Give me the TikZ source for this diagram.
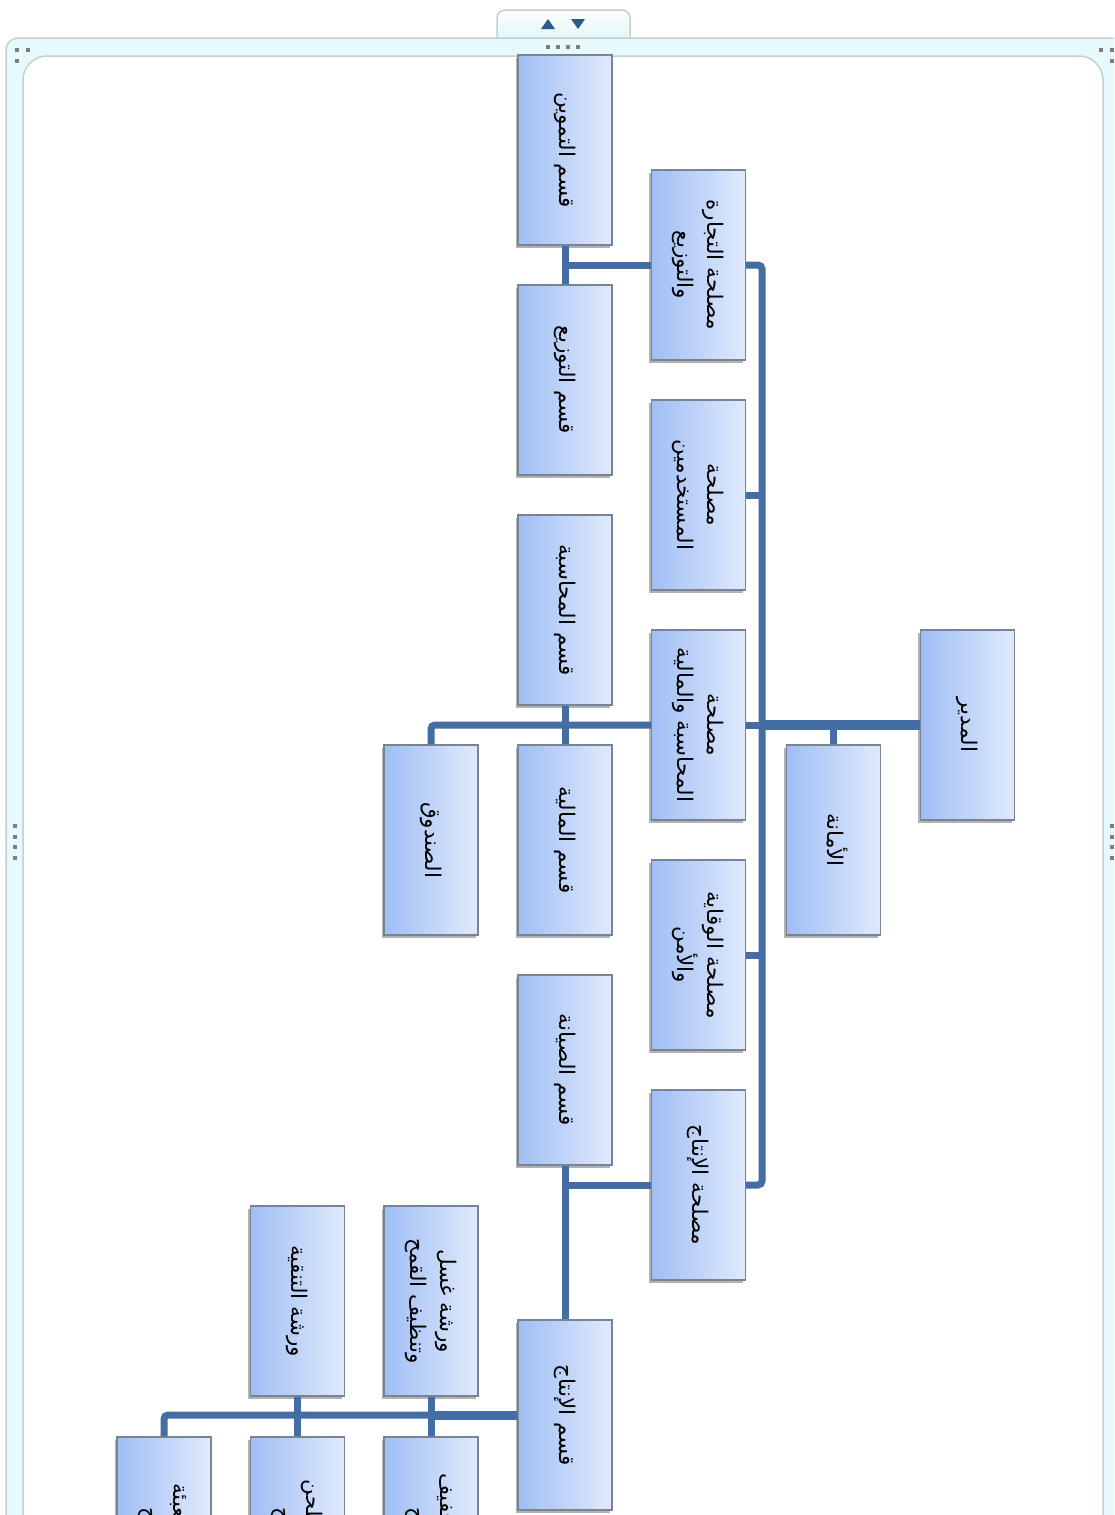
\documentclass[tikz,border=0pt]{standalone}
\usepackage{fontspec}
\usepackage{graphicx}
\usetikzlibrary{shadows,calc}
\newfontfamily\arabicfont[Script=Arabic]{DejaVu Sans}
\TeXXeTstate=1
\definecolor{boxdark}{RGB}{160,190,245}
\definecolor{boxlight}{RGB}{224,234,252}
\definecolor{boxborder}{RGB}{120,132,148}
\definecolor{conn}{RGB}{68,109,163}
\definecolor{bandfill}{RGB}{230,249,251}
\definecolor{bandline}{RGB}{196,207,210}
\definecolor{tabfill}{RGB}{224,244,247}
\definecolor{arrowblue}{RGB}{44,90,138}
\definecolor{dotgray}{RGB}{125,125,125}
\newcommand\artxt[1]{{\arabicfont\beginR #1\endR}}
\newcommand\rtext[1]{\rotatebox{-90}{\fontsize{21.5}{30}\selectfont\begin{tabular}{@{}c@{}}#1\end{tabular}}}
\tikzset{
  orgbox/.style={draw=boxborder, line width=1.3pt, left color=boxdark, right color=boxlight,
    minimum width=94pt, minimum height=190pt, inner sep=0pt,
    drop shadow={shadow xshift=-2.5pt, shadow yshift=-2.5pt, opacity=0.3, fill=black}},
  conn/.style={draw=conn, line width=7pt, rounded corners=4pt},
  connthick/.style={draw=conn, line width=10pt},
}
\begin{document}
\begin{tikzpicture}[x=1pt,y=-1pt]
\useasboundingbox (0,0) rectangle (1114,1515);
\clip (0,0) rectangle (1114,1515);
% frame
\fill[white] (0,0) rectangle (1114,1515);
\draw[bandline, line width=1.5pt, top color=white, bottom color=tabfill, rounded corners=8pt]
  (497,42) -- (497,10) -- (630,10) -- (630,42);
\draw[bandline, line width=1.5pt, fill=bandfill, rounded corners=12pt] (6,38) rectangle (1124,1540);
\draw[bandline, line width=1.5pt, fill=white, rounded corners=24pt] (23,56) rectangle (1103,1540);
\fill[arrowblue] (541,29) -- (555,29) -- (548,19) -- cycle;
\fill[arrowblue] (571,19) -- (585,19) -- (578,29) -- cycle;
\foreach \x in {546,556,566,576} \fill[dotgray] (\x,45) rectangle ++(4,4);
\foreach \p in {(15,48),(26,48),(15,59),(1099,48),(1110,48),(1110,59)} \fill[dotgray] \p rectangle ++(4,4);
\foreach \y in {824,835,845,856} {\fill[dotgray] (13,\y) rectangle ++(4,4); \fill[dotgray] (1110,\y) rectangle ++(4,4);}
% connectors (drawn first, boxes on top)
\coordinate (trunk) at (762,0);
\path (967.5,725) coordinate (rootc) (833.5,840) coordinate (asstc);
% nodes
\node[orgbox] (root) at (967.5,725) {\rtext{\artxt{المدير}}};
\node[orgbox] (asst) at (833.5,840) {\rtext{\artxt{الأمانة}}};
\node[orgbox] (sa) at (698.5,265) {\rtext{\artxt{مصلحة التجارة}\\\artxt{والتوزيع}}};
\node[orgbox] (sb) at (698.5,495) {\rtext{\artxt{مصلحة}\\\artxt{المستخدمين}}};
\node[orgbox] (sc) at (698.5,725) {\rtext{\artxt{مصلحة}\\\artxt{المحاسبة والمالية}}};
\node[orgbox] (sd) at (698.5,955) {\rtext{\artxt{مصلحة الوقاية}\\\artxt{والأمن}}};
\node[orgbox] (se) at (698.5,1185) {\rtext{\artxt{مصلحة الإنتاج}}};
\node[orgbox] (qa) at (565,150) {\rtext{\artxt{قسم التموين}}};
\node[orgbox] (qb) at (565,380) {\rtext{\artxt{قسم التوزيع}}};
\node[orgbox] (qc) at (565,610) {\rtext{\artxt{قسم المحاسبة}}};
\node[orgbox] (qd) at (565,840) {\rtext{\artxt{قسم المالية}}};
\node[orgbox] (qs) at (431,840) {\rtext{\artxt{الصندوق}}};
\node[orgbox] (qe) at (565,1070) {\rtext{\artxt{قسم الصيانة}}};
\node[orgbox] (qf) at (565,1415) {\rtext{\artxt{قسم الإنتاج}}};
\node[orgbox] (wa) at (431,1301) {\rtext{\artxt{ورشة غسل}\\\artxt{وتنظيف القمح}}};
\node[orgbox] (wb) at (297.5,1301) {\rtext{\artxt{ورشة التنقية}}};
\node[orgbox] (wc) at (431,1532) {\rtext{\artxt{ورشة تجفيف}\\\artxt{القمح}}};
\node[orgbox] (wd) at (297.5,1532) {\rtext{\artxt{ورشة طحن}\\\artxt{القمح}}};
\node[orgbox] (we) at (164,1532) {\rtext{\artxt{ورشة تعبئة}\\\artxt{القمح}}};
% connectors
\draw[connthick] (root.west) -- (root.west -| trunk);
\draw[conn] (asst.north) -- (asst.north |- root.west);
\draw[conn] (sa.east) -- (trunk |- sa.east) -- (trunk |- se.east) -- (se.east);
\draw[conn] (sb.east) -- (sb.east -| trunk);
\draw[conn] (sc.east) -- (sc.east -| trunk);
\draw[conn] (sd.east) -- (sd.east -| trunk);
\draw[conn] (sa.west) -- (sa.west -| qa.south);
\draw[conn] (qa.south) -- (qb.north);
\draw[conn] (sc.west) -| (qs.north);
\draw[conn] (qc.south) -- (qd.north);
\draw[conn] (se.west) -- (se.west -| qe.south);
\draw[conn] (qe.south) -- (qf.north);
\draw[conn] (qf.west) -| (we.north);
\draw[draw=conn, line width=9pt] (qf.west) -- (qf.west -| wa.south);
\draw[conn] (wa.south) -- (wc.north);
\draw[conn] (wb.south) -- (wd.north);
\end{tikzpicture}
\end{document}
